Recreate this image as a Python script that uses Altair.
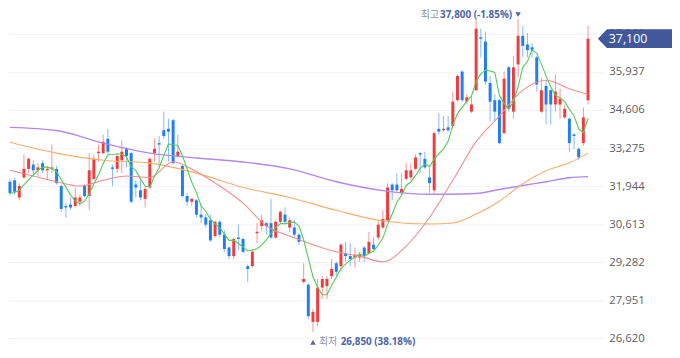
import altair as alt
import pandas as pd

# ---- daily candles ----
opens = [32100, 32150, 31550, 32250, 32550, 32700, 32500, 32750, 32500, 32550,
         32550, 31950, 31250, 31300, 31250, 31400, 31950, 31600, 32200, 33100,
         33100, 33600, 32600, 32550, 32850, 33250, 33100, 32000, 31800, 31500,
         31900, 33100, 33450, 33900, 33950, 34250, 33000, 32650, 31600, 31400,
         31450, 30950, 30850, 30750, 30200, 30700, 30250, 29800, 29500, 30150,
         30100, 29150, 29150, 30300, 30550, 30650, 30650, 30150, 30700, 30950,
         30500, 30500, 30250, 28600, 28500, 27200, 27200, 28400, 28450, 28800,
         29250, 29150, 29600, 29500, 29450, 29450, 29800, 29600, 29900, 30150,
         30500, 30750, 32000, 32000, 31700, 32200, 32250, 32550, 33100, 32900,
         32250, 31800, 33950, 33900, 34000, 34050, 34950, 35950, 34900, 34550,
         35300, 37150, 37000, 35550, 34950, 34950, 33800, 36100, 34550, 36200,
         37200, 36900, 36800, 36450, 34550, 35450, 35300, 34800, 34800, 34350,
         34300, 33750, 33250, 33450, 34950]
highs = [32200, 32250, 32050, 33050, 32950, 32850, 32750, 32850, 32650, 33400,
         32650, 32000, 31350, 31550, 31900, 31650, 32000, 33100, 33050, 33400,
         33750, 33950, 32700, 33100, 33550, 33300, 33150, 32150, 32150, 31900,
         32950, 33600, 33700, 34550, 34300, 34300, 33750, 32700, 31700, 31550,
         31500, 31300, 30950, 30950, 30750, 30750, 30400, 29850, 30150, 30600,
         30150, 29200, 29700, 30650, 30950, 30700, 31500, 30750, 31100, 31200,
         30850, 30750, 30300, 29250, 28550, 27650, 28700, 28800, 28800, 29400,
         29300, 29950, 30000, 29950, 29800, 29650, 29850, 30350, 30150, 30750,
         31100, 32050, 32050, 32400, 32400, 32750, 32750, 33050, 33150, 33150,
         32600, 33850, 34500, 34400, 34400, 35250, 35850, 36000, 35150, 35100,
         37750, 37450, 37350, 35800, 35150, 35000, 35950, 36150, 36500, 37800,
         37550, 37300, 36950, 36500, 35750, 35650, 35350, 35850, 35350, 34800,
         34350, 33800, 33300, 34700, 37550]
lows = [31600, 31650, 31450, 32200, 32400, 32300, 32300, 32400, 32150, 32400,
        32000, 31050, 30850, 31100, 31200, 31250, 31550, 31100, 32150, 32800,
        33050, 33050, 31950, 32400, 32400, 32600, 31350, 31550, 31450, 31200,
        31850, 32800, 32600, 33600, 32800, 32700, 32950, 31550, 31250, 31250,
        30850, 30650, 30500, 30000, 30150, 30150, 29650, 29400, 29400, 29700,
        29600, 28600, 29100, 29950, 30400, 30250, 30100, 30100, 30650, 30600,
        30350, 30150, 29900, 28550, 27300, 26850, 27050, 28000, 28000, 28700,
        28800, 28950, 29300, 29150, 29100, 29300, 29300, 29550, 29700, 30050,
        30450, 30700, 31450, 31750, 31650, 32150, 32150, 32500, 32400, 32550,
        31700, 31700, 33750, 33850, 33850, 33950, 34900, 34900, 34800, 34500,
        35250, 36450, 35500, 34200, 34200, 33400, 33750, 34550, 34300, 35750,
        36450, 36450, 36450, 35250, 34500, 34100, 34100, 34550, 34300, 34300,
        33150, 33250, 32850, 33350, 34800]
closes = [31700, 31750, 31950, 32550, 32900, 32500, 32600, 32500, 32550, 32600,
          32050, 31150, 31200, 31200, 31550, 31550, 31600, 32500, 32900, 33150,
          33500, 33150, 32550, 33000, 33150, 33000, 31400, 31900, 31550, 31850,
          32900, 33250, 33400, 33700, 33850, 32750, 33150, 31600, 31400, 31500,
          30950, 30850, 30600, 30050, 30700, 30250, 29750, 29500, 30100, 30100,
          29650, 29050, 29650, 30350, 30750, 30550, 30150, 30700, 31050, 30700,
          30750, 30250, 30000, 28700, 27400, 27550, 28400, 28700, 28700, 29050,
          28950, 29900, 29500, 29400, 29550, 29550, 29500, 30000, 29750, 30600,
          30800, 31900, 31800, 31800, 31850, 32500, 32500, 32950, 33050, 32600,
          32050, 33800, 33850, 33950, 33900, 34900, 35800, 34950, 35050, 34800,
          37450, 37100, 35600, 34900, 34550, 33450, 35700, 34650, 36100, 37200,
          36850, 36700, 36700, 35500, 35300, 34800, 34800, 35250, 35000, 34650,
          33450, 33700, 32950, 34350, 37100]

# ---- moving averages (candle index, price) ----
ma20_idx = [0, 5, 10, 15, 20, 25, 30, 35, 40, 45, 50, 55, 60, 65, 70, 75, 80,
            85, 90, 95, 100, 105, 110, 115, 120, 124]
ma20_val = [32500, 32300, 32100, 31950, 32150, 32300, 32250, 32800, 32450, 31950,
            31350, 30550, 30200, 29900, 29650, 29500, 29300, 29850, 30850, 32150,
            33500, 34400, 35300, 35650, 35350, 35150]
ma60_idx = [0, 10, 20, 30, 40, 50, 60, 70, 80, 90, 95, 100, 105, 110, 115, 120, 124]
ma60_val = [33480, 33100, 32850, 32750, 32400, 31900, 31550, 31100, 30730, 30620,
            30660, 30970, 31420, 32030, 32480, 32760, 33100]
ma120_idx = [0, 10, 20, 30, 40, 50, 60, 70, 80, 90, 100, 105, 110, 115, 120, 124]
ma120_val = [34000, 33890, 33450, 33100, 32930, 32790, 32550, 32100, 31790, 31660,
             31690, 31830, 31970, 32100, 32240, 32280]

y_ticks = [26620, 27951, 29282, 30613, 31944, 33275, 34606, 35937, 37268]

RED = "#f03c3c"
BLUE = "#1f7ef2"
LBL_BLUE = "#4c66a6"
LBL_GRAY = "#8a94b0"
TAG = "#41599a"
FONT = "Open Sans, Noto Sans CJK KR"

n = len(closes)
candles = pd.DataFrame({"i": list(range(n)), "open": opens, "high": highs,
                        "low": lows, "close": closes})
ma20 = pd.DataFrame({"i": ma20_idx, "v": ma20_val})
ma60 = pd.DataFrame({"i": ma60_idx, "v": ma60_val})
ma120 = pd.DataFrame({"i": ma120_idx, "v": ma120_val})

hi_p = max(highs)
hi_i = highs.index(hi_p)
lo_p = min(lows)
lo_i = lows.index(lo_p)
last = closes[-1]
hi_df = pd.DataFrame({"i": [hi_i], "p": [hi_p], "word": ["최고"],
                      "num": [f"{hi_p:,} ({(last / hi_p - 1) * 100:.2f}%)"]})
lo_df = pd.DataFrame({"i": [lo_i], "p": [lo_p], "word": ["최저"],
                      "num": [f"{lo_p:,} ({(last / lo_p - 1) * 100:.2f}%)"]})
tag_df = pd.DataFrame({"i": [n - 1], "p": [last], "txt": [f"{last:,}"]})

W = 603
xs = alt.Scale(domain=[-0.42, 127.39], nice=False, zero=False)
ys = alt.Scale(domain=[26011, 38100], nice=False, zero=False)
yaxis = alt.Axis(orient="right", values=y_ticks, format=",d", title=None,
                 domain=False, ticks=False, labelPadding=5, labelFontSize=11.5,
                 labelFont=FONT, labelColor="#5e5e5e", grid=True,
                 gridColor="#f1f2f7", gridWidth=1)
X = alt.X("i:Q", scale=xs, axis=None)
color = alt.condition("datum.close >= datum.open", alt.value(RED), alt.value(BLUE))

base = alt.Chart(candles)
wicks = base.mark_rule(strokeWidth=1, opacity=0.55).encode(
    x=X, y=alt.Y("low:Q", scale=ys, axis=yaxis), y2="high:Q", color=color)
bodies = base.mark_rule(strokeWidth=3).encode(
    x=X, y=alt.Y("open:Q", scale=ys, axis=yaxis), y2="close:Q", color=color)


def ma_line(df, col, sw=1.1):
    return alt.Chart(df).mark_line(color=col, strokeWidth=sw, interpolate="monotone").encode(
        x=X, y=alt.Y("v:Q", scale=ys, axis=yaxis))


l120 = ma_line(ma120, "#b488f2", 1.4)
l60 = ma_line(ma60, "#f7b06c")
l20 = ma_line(ma20, "#f58c8c")
l5 = base.transform_window(ma5="mean(close)", frame=[-4, 0], sort=[alt.SortField("i")]).mark_line(
    color="#55c95a", strokeWidth=1.1).encode(x=X, y=alt.Y("ma5:Q", scale=ys, axis=yaxis))

hb = alt.Chart(hi_df)
hi_tri = hb.mark_point(shape="triangle-down", filled=True, size=30, opacity=1,
                       color=LBL_BLUE, yOffset=-4).encode(x=X, y=alt.Y("p:Q", scale=ys, axis=yaxis))
hi_num = hb.mark_text(align="right", baseline="middle", dx=-6, dy=-3.5, fontSize=10,
                      fontWeight="bold", font=FONT, color=LBL_BLUE).encode(
    x=X, y=alt.Y("p:Q", scale=ys, axis=yaxis), text="num:N")
hi_word = hb.mark_text(align="right", baseline="middle", dx=-80, dy=-3.5, fontSize=10,
                       font=FONT, color=LBL_GRAY).encode(
    x=X, y=alt.Y("p:Q", scale=ys, axis=yaxis), text="word:N")

lb = alt.Chart(lo_df)
lo_tri = lb.mark_point(shape="triangle-up", filled=True, size=30, opacity=1,
                       color=LBL_BLUE, yOffset=10.5).encode(x=X, y=alt.Y("p:Q", scale=ys, axis=yaxis))
lo_word = lb.mark_text(align="left", baseline="middle", dx=6, dy=10.5, fontSize=10,
                       font=FONT, color=LBL_GRAY).encode(
    x=X, y=alt.Y("p:Q", scale=ys, axis=yaxis), text="word:N")
lo_num = lb.mark_text(align="left", baseline="middle", dx=28, dy=10.5, fontSize=10,
                      fontWeight="bold", font=FONT, color=LBL_BLUE).encode(
    x=X, y=alt.Y("p:Q", scale=ys, axis=yaxis), text="num:N")

tb = alt.Chart(tag_df)
tag_shape = "M -1 0 L -0.78 -0.229 L 1 -0.229 L 1 0.229 L -0.78 0.229 Z"
tag = tb.mark_point(shape=tag_shape, filled=True, size=6889, opacity=1, color=TAG,
                    strokeWidth=0).encode(x=alt.value(638.5), y=alt.Y("p:Q", scale=ys, axis=yaxis))
tag_txt = tb.mark_text(align="left", baseline="middle", fontSize=12.5, font=FONT,
                       color="white").encode(x=alt.value(608),
                                             y=alt.Y("p:Q", scale=ys, axis=yaxis), text="txt:N")

chart = alt.layer(wicks, bodies, l120, l60, l20, l5, hi_tri, hi_num, hi_word,
                  lo_tri, lo_word, lo_num, tag, tag_txt).properties(
    width=W, height=350,
    autosize=alt.AutoSizeParams(type="none"),
    padding={"left": 0, "top": 0, "right": 69, "bottom": 0},
).configure_view(strokeWidth=0)

chart.save("out.html", embed_options={"renderer": "svg", "actions": False})
